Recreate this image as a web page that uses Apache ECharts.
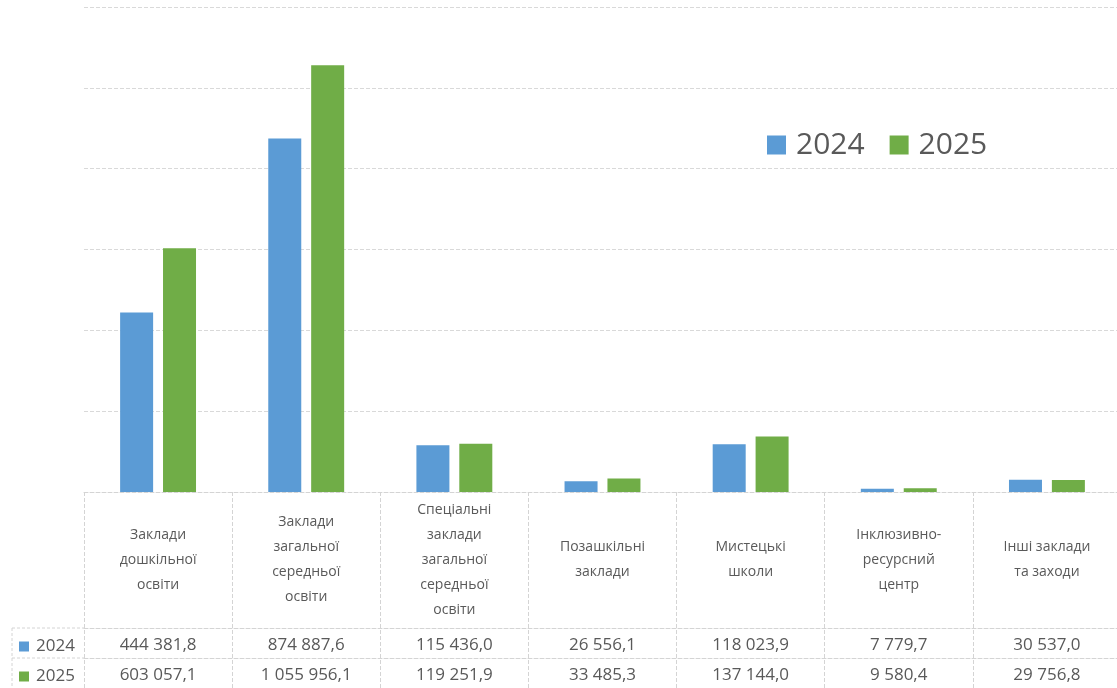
<!DOCTYPE html>
<html lang="uk">
<head>
<meta charset="UTF-8">
<title>Видатки на освіту 2024-2025</title>
<style>
  html, body { margin: 0; padding: 0; background: #fff; }
  #main { width: 1117px; height: 688px; }
</style>
</head>
<body>
<div id="main"></div>
<script src="https://cdn.jsdelivr.net/npm/echarts@6/dist/echarts.min.js"></script>
<script>
const categories = [
  'Заклади\nдошкільної\nосвіти',
  'Заклади\nзагальної\nсередньої\nосвіти',
  'Спеціальні\nзаклади\nзагальної\nсередньої\nосвіти',
  'Позашкільні\nзаклади',
  'Мистецькі\nшколи',
  'Інклюзивно-\nресурсний\nцентр',
  'Інші заклади\nта заходи'
];
const years = ['2024', '2025'];
const values2024 = [444381.8, 874887.6, 115436.0, 26556.1, 118023.9, 7779.7, 30537.0];
const values2025 = [603057.1, 1055956.1, 119251.9, 33485.3, 137144.0, 9580.4, 29756.8];

const BLUE = '#5B9BD5';
const GREEN = '#70AD47';
const TEXT = '#595959';
const LINE = '#d4d4d4';
const FONT = '"Open Sans", "Noto Sans", sans-serif';

// 1055956.1 -> "1 055 956,1"
function fmt(v) {
  const parts = v.toFixed(1).split('.');
  return parts[0].replace(/\B(?=(\d{3})+(?!\d))/g, ' ') + ',' + parts[1];
}

const chart = echarts.init(document.getElementById('main'));

const tableLine = { show: true, lineStyle: { color: LINE, type: 'dashed', width: 1 } };

const option = {
  animation: false,
  textStyle: { fontFamily: FONT },
  // plot runs a little past the right edge of the picture
  grid: { left: 84, width: 1037, top: 7, bottom: 196, outerBoundsMode: 'none' },
  legend: [
    {
      data: years,
      left: 762, top: 125,
      icon: 'rect', itemWidth: 19, itemHeight: 19, itemGap: 25,
      textStyle: { fontSize: 30, color: TEXT, fontFamily: FONT, padding: [0, 0, 0, 5] }
    },
    {
      data: ['2024'],
      left: 14, top: 633,
      icon: 'rect', itemWidth: 10, itemHeight: 10, itemGap: 4,
      textStyle: { fontSize: 17, color: TEXT, fontFamily: FONT, padding: [0, 0, 0, 2] }
    },
    {
      data: ['2025'],
      left: 14, top: 663,
      icon: 'rect', itemWidth: 10, itemHeight: 10, itemGap: 4,
      textStyle: { fontSize: 17, color: TEXT, fontFamily: FONT, padding: [0, 0, 0, 2] }
    }
  ],
  xAxis: [
    {
      type: 'category',
      data: categories,
      position: 'bottom',
      axisLine: tableLine,
      axisTick: { show: true, length: 196, lineStyle: { color: LINE, type: 'dashed' } },
      axisLabel: {
        interval: 0, margin: 68, verticalAlign: 'middle',
        color: TEXT, fontSize: 14, lineHeight: 25, fontFamily: FONT
      }
    },
    {
      type: 'category',
      data: values2024.map(fmt),
      position: 'bottom',
      offset: 136,
      axisLine: tableLine,
      axisTick: { show: false },
      axisLabel: { interval: 0, margin: 17, verticalAlign: 'middle', color: TEXT, fontSize: 17, fontFamily: FONT }
    },
    {
      type: 'category',
      data: values2025.map(fmt),
      position: 'bottom',
      offset: 166,
      axisLine: tableLine,
      axisTick: { show: false },
      axisLabel: { interval: 0, margin: 17, verticalAlign: 'middle', color: TEXT, fontSize: 17, fontFamily: FONT }
    }
  ],
  yAxis: {
    type: 'value',
    min: 0, max: 1200000, interval: 200000,
    axisLabel: { show: false },
    axisLine: { show: false },
    axisTick: { show: false },
    splitLine: { show: true, lineStyle: { color: '#d9d9d9', type: 'dashed' } }
  },
  series: [
    {
      name: '2024', type: 'bar', data: values2024,
      barWidth: 33, barGap: '30%',
      itemStyle: { color: BLUE }
    },
    {
      name: '2025', type: 'bar', data: values2025,
      barWidth: 33, barGap: '30%',
      itemStyle: { color: GREEN }
    }
  ],
  graphic: [
    // left part of the data table: the legend key cells
    { type: 'line', shape: { x1: 12, y1: 628, x2: 84, y2: 628 }, style: { stroke: LINE, lineDash: [3, 2] } },
    { type: 'line', shape: { x1: 12, y1: 658, x2: 84, y2: 658 }, style: { stroke: LINE, lineDash: [3, 2] } },
    { type: 'line', shape: { x1: 12, y1: 628, x2: 12, y2: 688 }, style: { stroke: LINE, lineDash: [3, 2] } }
  ]
};

chart.setOption(option);
</script>
</body>
</html>
